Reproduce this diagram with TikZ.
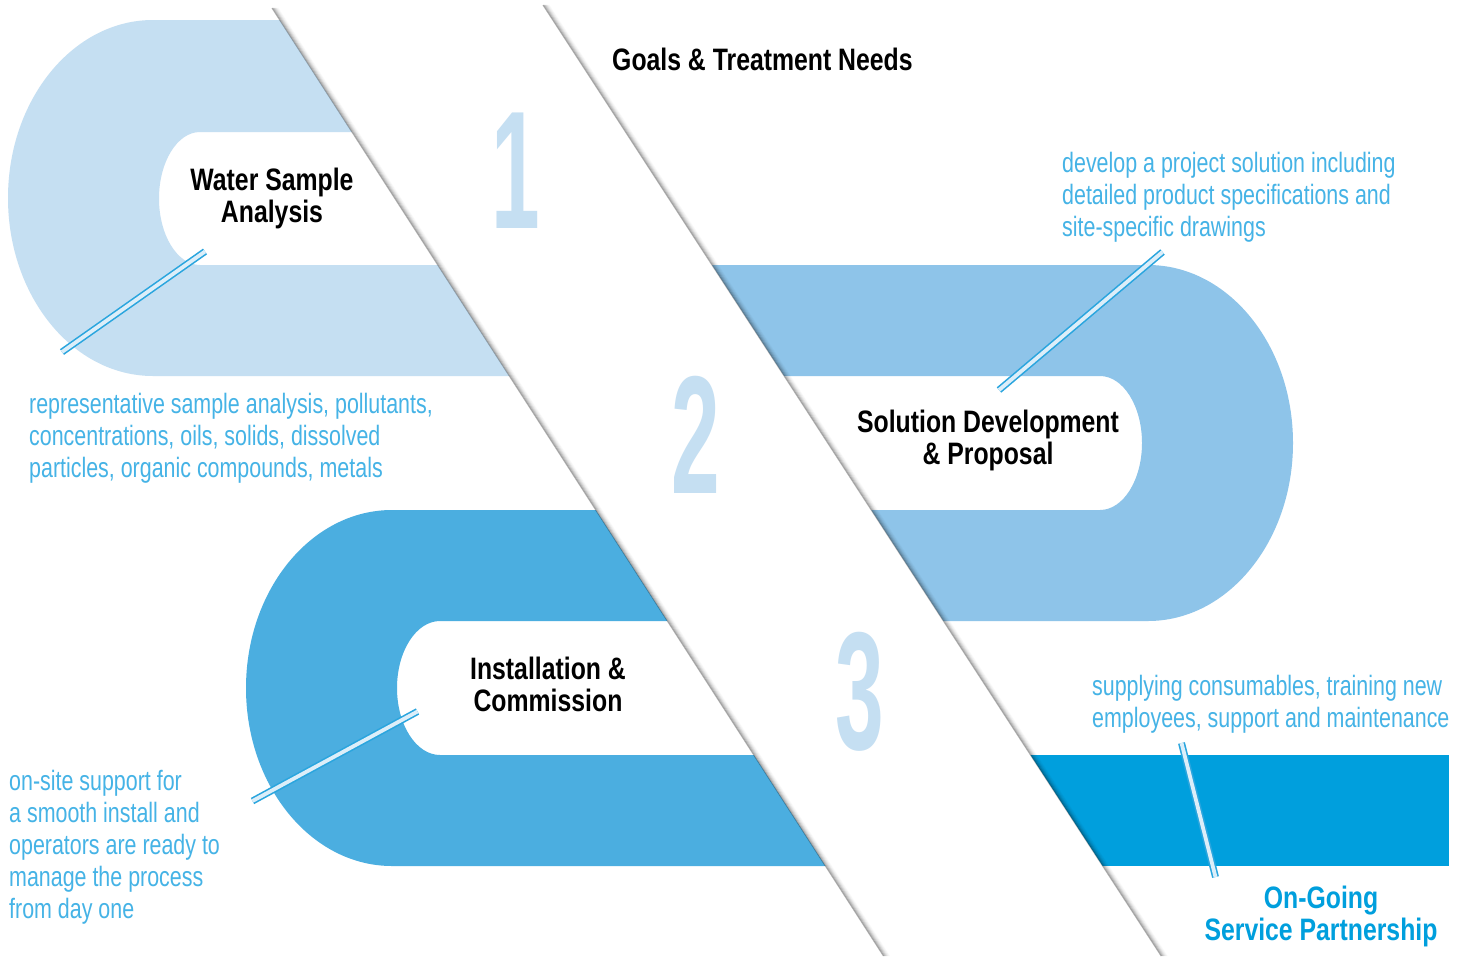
\documentclass[tikz,border=0pt]{standalone}
\usepackage{fontspec}
\setmainfont{Liberation Sans}
\newfontfamily\titlefont[FakeStretch=0.80]{Liberation Sans}
\newfontfamily\descfont[FakeStretch=0.765]{Liberation Sans}
\newfontfamily\digitfont[FakeStretch=0.52]{Liberation Sans}
\definecolor{bandA}{HTML}{C5DFF2}
\definecolor{bandB}{HTML}{8EC4E9}
\definecolor{bandC}{HTML}{4BAEE0}
\definecolor{bandD}{HTML}{009FDD}
\definecolor{desctext}{HTML}{45B3E6}
\definecolor{leader}{HTML}{2AA5DE}
\definecolor{gapc}{HTML}{DCEEF9}
\begin{document}
\begin{tikzpicture}[x=1pt,y=-1pt,
  title/.style={font=\titlefont\bfseries\fontsize{31}{32}\selectfont, align=center, inner sep=0pt, anchor=base},
  desc/.style={font=\descfont\fontsize{28}{32}\selectfont, text=desctext, align=left, inner sep=0pt, anchor=base west},
  digit/.style={font=\digitfont\bfseries\fontsize{168}{168}\selectfont, text=bandA, inner sep=0pt, anchor=base},
  leaderline/.style={draw=leader, line width=1.6pt, double=gapc, double distance=3.8pt},
  shadowline/.style={draw=black, line width=1.1pt}]
\useasboundingbox (0,0) rectangle (1467,956);
\fill[white] (0,0) rectangle (1467,956);

% left side of the white diagonal strip
\begin{scope}
  \clip (0,0) -- (266.8,0) -- (883.5,956) -- (0,956) -- cycle;
  \fill[bandA, even odd rule]
    (900,20) -- (153,20) .. controls (72.9,20) and (8,99.7) .. (8,198)
      .. controls (8,296.3) and (72.9,376) .. (153,376) -- (900,376) -- cycle
    (900,132) -- (200,132) .. controls (177.4,132) and (159,161.8) .. (159,198.5)
      .. controls (159,235.2) and (177.4,265) .. (200,265) -- (900,265) -- cycle;
  \fill[bandC, even odd rule]
    (900,510) -- (392,510) .. controls (311.4,510) and (246,589.7) .. (246,688)
      .. controls (246,786.3) and (311.4,866) .. (392,866) -- (900,866) -- cycle
    (900,621) -- (440,621) .. controls (416.3,621) and (397,651) .. (397,688)
      .. controls (397,725) and (416.3,755) .. (440,755) -- (900,755) -- cycle;
\end{scope}

% right side of the white diagonal strip
\begin{scope}
  \clip (539.75,0) -- (1467,0) -- (1467,956) -- (1161.2,956) -- cycle;
  \fill[bandB, even odd rule]
    (600,265) -- (1148,265) .. controls (1228.1,265) and (1293,344.7) .. (1293,443)
      .. controls (1293,541.3) and (1228.1,621) .. (1148,621) -- (600,621) -- cycle
    (600,376) -- (1100,376) .. controls (1123.2,376) and (1142,406) .. (1142,443)
      .. controls (1142,480) and (1123.2,510) .. (1100,510) -- (600,510) -- cycle;
  \fill[bandD] (900,755) rectangle (1449,866);
\end{scope}

% folds with soft shadows
\coordinate (LLtop) at (272,8);
\coordinate (LLbot) at (883.5,956);
\coordinate (RLtop) at (543,5);
\coordinate (RLbot) at (1161.2,956);
\foreach \d/\o in {0/0.30,1/0.22,2/0.16,3/0.11,4/0.07,5/0.04,6/0.02}{
  \draw[shadowline, opacity=\o] ([xshift=\d pt]LLtop) -- ([xshift=\d pt]LLbot);
  \draw[shadowline, opacity=\o] ([xshift=\d pt]RLtop) -- ([xshift=\d pt]RLbot);
}

% step numbers
\node[digit] (n1) at (516,228) {1};
\node[digit] (n2) at (696,493) {2};
\node[digit] (n3) at (860,749) {3};

% titles (base = last line's baseline)
\node[title, anchor=base west] (goals) at (612,70) {Goals \& Treatment Needs};
\node[title] (water) at (272,222) {Water Sample\\Analysis};
\node[title] (solution) at (988,464) {Solution Development\\\& Proposal};
\node[title] (install) at (548,711) {Installation \&\\Commission};
\node[title, text=bandD] (ongoing) at (1321,940) {On-Going\\Service Partnership};

% descriptions
\node[desc] (dwater) at (29,477) {representative sample analysis, pollutants,\\concentrations, oils, solids, dissolved\\particles, organic compounds, metals};
\node[desc] (dsol) at (1062,236) {develop a project solution including\\detailed product specifications and\\site-specific drawings};
\node[desc] (dinst) at (9,918) {on-site support for\\a smooth install and\\operators are ready to\\manage the process\\from day one};
\node[desc] (don) at (1092,727) {supplying consumables, training new\\employees, support and maintenance};

% leader lines
\coordinate (l1a) at (62,352);    \coordinate (l1b) at (205,251.5);
\coordinate (l2a) at (999,390);   \coordinate (l2b) at (1162.5,252);
\coordinate (l3a) at (252.5,801); \coordinate (l3b) at (417.5,711.5);
\coordinate (l4a) at (1181.5,743);\coordinate (l4b) at (1215.5,877);
\draw[leaderline] (l1a) -- (l1b);
\draw[leaderline] (l2a) -- (l2b);
\draw[leaderline] (l3a) -- (l3b);
\draw[leaderline] (l4a) -- (l4b);
\end{tikzpicture}
\end{document}
